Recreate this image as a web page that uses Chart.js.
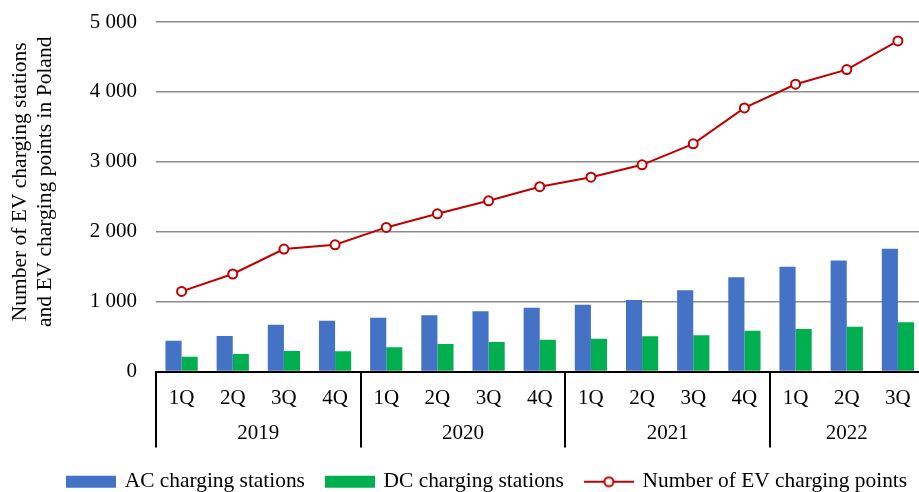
<!DOCTYPE html>
<html>
<head>
<meta charset="utf-8">
<script src="https://cdn.jsdelivr.net/npm/chart.js@4.4.1/dist/chart.umd.min.js"></script>
<style>
  html, body { margin: 0; padding: 0; background: #fff; overflow: hidden; }
  .chart-container { position: relative; width: 930px; height: 492px; }
</style>
</head>
<body>
<div class="chart-container">
  <canvas id="evChart"></canvas>
</div>
<script>
const quarters = ['1Q', '2Q', '3Q', '4Q', '1Q', '2Q', '3Q', '4Q', '1Q', '2Q', '3Q', '4Q', '1Q', '2Q', '3Q'];
const years = ['2019', '2020', '2021', '2022'];
const quartersPerYear = [4, 4, 4, 3];

const acStations = [443, 510, 671, 728, 771, 805, 862, 914, 957, 1024, 1162, 1348, 1500, 1590, 1757];
const dcStations = [214, 252, 295, 292, 347, 395, 424, 457, 471, 505, 519, 586, 610, 643, 705];
const chargingPoints = [1147, 1396, 1753, 1814, 2062, 2257, 2443, 2645, 2781, 2957, 3257, 3771, 4110, 4319, 4729];

const yTicks = [0, 1000, 2000, 3000, 4000, 5000];
const yTitle = ['Number of EV charging stations', 'and EV charging points in Poland'];

const FONT = "'Liberation Serif', 'Times New Roman', serif";
const FONT_SIZE = 21;
const AC_COLOR = '#4472C4';
const DC_COLOR = '#00B050';
const LINE_COLOR = '#C00000';

const formatThousands = (v) => String(v).replace(/\B(?=(\d{3})+(?!\d))/g, ' ');

// small canvases used as legend symbols
const makeIcon = (kind, color) => {
  const c = document.createElement('canvas');
  c.width = 50;
  c.height = 14;
  const g = c.getContext('2d');
  if (kind === 'bar') {
    g.fillStyle = color;
    g.fillRect(0, 1, 50, 12);
  } else {
    g.strokeStyle = color;
    g.lineWidth = 2;
    g.beginPath();
    g.moveTo(0, 7);
    g.lineTo(50, 7);
    g.stroke();
    g.beginPath();
    g.arc(25, 7, 4.5, 0, Math.PI * 2);
    g.fillStyle = '#fff';
    g.fill();
    g.stroke();
  }
  return c;
};

const legendIcons = [makeIcon('bar', AC_COLOR), makeIcon('bar', DC_COLOR), makeIcon('line', LINE_COLOR)];

// year row + separators under the quarter labels, and the y title
const groupAxisPlugin = {
  id: 'groupAxis',
  afterLayout(chart) {
    const lg = chart.legend;
    const pad = lg.options.labels.padding;
    const startX = (lg.left + pad + lg.right - lg.lineWidths[0]) / 2;
    const dx = 68 - startX;
    lg.left += dx;
    lg.right += dx;
    const dy = 471 - (lg.top + pad);
    lg.top += dy;
    lg.bottom += dy;
  },
  afterDraw(chart) {
    const ctx = chart.ctx;
    const x = chart.scales.x;
    const area = chart.chartArea;
    const half = (x.getPixelForValue(1) - x.getPixelForValue(0)) / 2;

    ctx.save();
    ctx.strokeStyle = '#000';
    ctx.lineWidth = 2;
    ctx.fillStyle = '#000';
    ctx.font = FONT_SIZE + 'px ' + FONT;
    ctx.textAlign = 'center';
    ctx.textBaseline = 'middle';

    let start = 0;
    years.forEach((year, i) => {
      const end = start + quartersPerYear[i] - 1;
      const left = x.getPixelForValue(start) - half;
      const right = x.getPixelForValue(end) + half;
      ctx.beginPath();
      ctx.moveTo(Math.round(left), area.bottom);
      ctx.lineTo(Math.round(left), area.bottom + 76);
      ctx.stroke();
      ctx.fillText(year, (left + right) / 2, area.bottom + 62);
      start = end + 1;
    });

    // y axis title, two lines rotated
    ctx.font = '21.5px ' + FONT;
    ctx.translate(20, (area.top + area.bottom) / 2 - 15);
    ctx.rotate(-Math.PI / 2);
    yTitle.forEach((line, i) => {
      ctx.fillText(line, 0, i * 25);
    });
    ctx.restore();
  }
};

const data = {
  labels: quarters,
  datasets: [
    {
      type: 'bar',
      label: 'AC charging stations',
      data: acStations,
      backgroundColor: AC_COLOR,
      barPercentage: 1,
      categoryPercentage: 0.63,
      order: 1
    },
    {
      type: 'bar',
      label: 'DC charging stations',
      data: dcStations,
      backgroundColor: DC_COLOR,
      barPercentage: 1,
      categoryPercentage: 0.63,
      order: 1
    },
    {
      type: 'line',
      label: 'Number of EV charging points',
      data: chargingPoints,
      borderColor: LINE_COLOR,
      borderWidth: 2,
      pointRadius: 4.5,
      pointBorderWidth: 2,
      pointBackgroundColor: '#fff',
      pointBorderColor: LINE_COLOR,
      tension: 0,
      order: 0
    }
  ]
};

const options = {
  responsive: true,
  maintainAspectRatio: false,
  animation: false,
  layout: { padding: { top: 22, right: 1, left: 0, bottom: 11 } },
  plugins: {
    tooltip: { enabled: false },
    legend: {
      position: 'bottom',
      labels: {
        usePointStyle: true,
        pointStyleWidth: 46,
        boxHeight: 12,
        padding: 22,
        color: '#000',
        font: { family: FONT, size: 21.4 },
        generateLabels: (chart) => chart.data.datasets.map((ds, i) => ({
          text: ds.label,
          pointStyle: legendIcons[i],
          datasetIndex: i,
          hidden: false,
          fontColor: '#000',
          lineWidth: 0,
          strokeStyle: 'transparent',
          fillStyle: 'transparent'
        }))
      }
    }
  },
  scales: {
    x: {
      grid: { display: false, drawTicks: false },
      border: { display: true, color: '#000', width: 2 },
      ticks: {
        color: '#000',
        padding: 14,
        maxRotation: 0,
        autoSkip: false,
        font: { family: FONT, size: FONT_SIZE }
      },
      afterFit: (scale) => { scale.height = 56; }
    },
    y: {
      min: 0,
      max: 5000,
      afterBuildTicks: (scale) => { scale.ticks = yTicks.map(v => ({ value: v })); },
      grid: { color: '#8c8c8c', lineWidth: 1.5, drawTicks: false },
      border: { display: false },
      ticks: {
        color: '#000',
        padding: 19,
        font: { family: FONT, size: FONT_SIZE },
        callback: (v) => formatThousands(v)
      },
      afterFit: (scale) => {
        scale.width = 156;
        // tick padding would otherwise push the plot top down
        scale.paddingTop = 0;
        scale.paddingBottom = 0;
      }
    }
  }
};

new Chart(document.getElementById('evChart').getContext('2d'), {
  type: 'bar',
  data: data,
  options: options,
  plugins: [groupAxisPlugin]
});
</script>
</body>
</html>
